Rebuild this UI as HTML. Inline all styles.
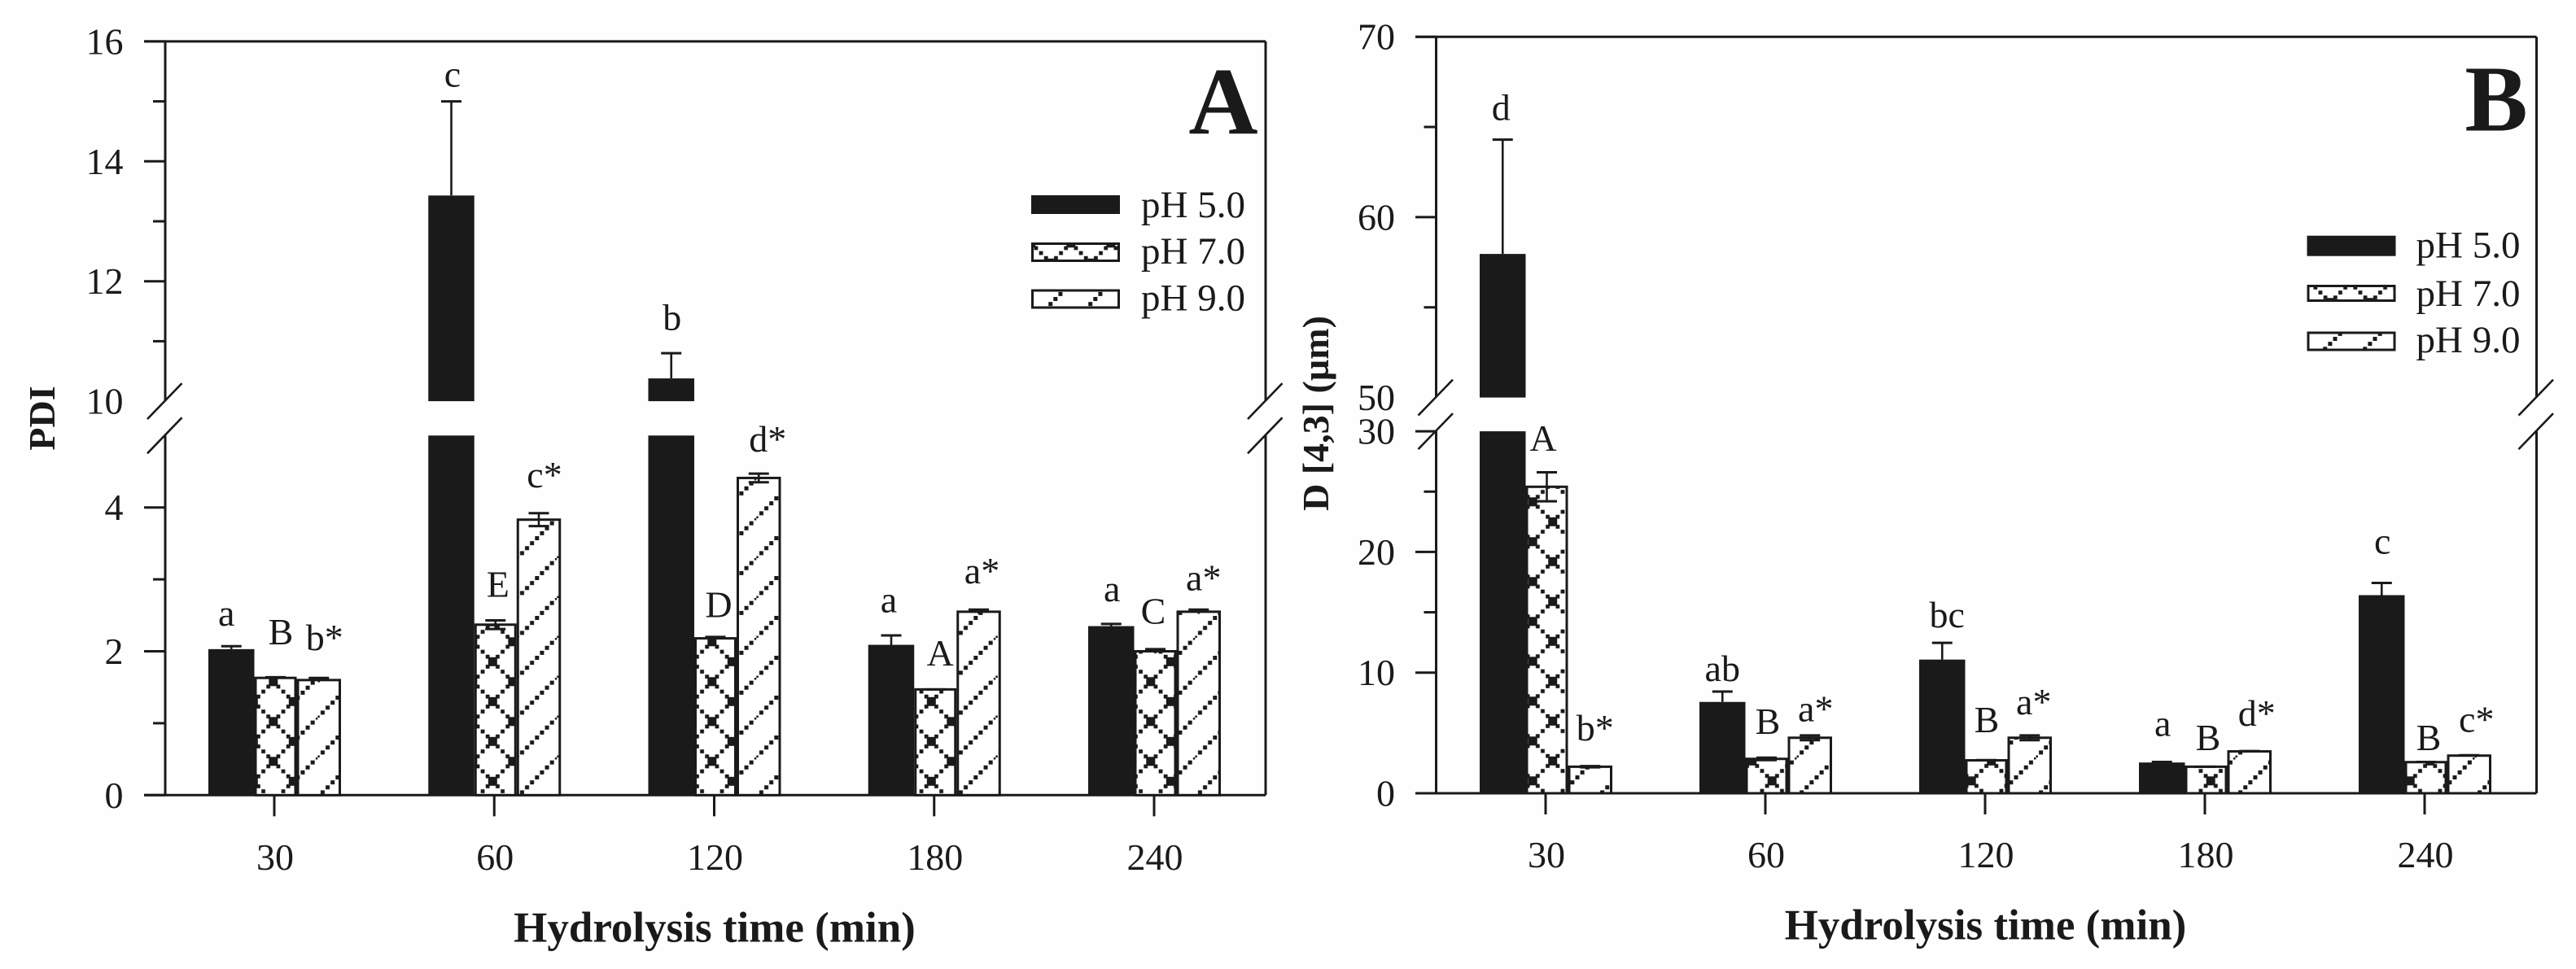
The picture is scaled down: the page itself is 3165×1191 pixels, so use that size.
<!DOCTYPE html>
<html lang="en">
<head>
<meta charset="utf-8">
<title>PDI and D[4,3] versus hydrolysis time</title>
<style>
html,body{margin:0;padding:0;background:#fefefe;}
body{width:3165px;height:1191px;overflow:hidden;}
svg{display:block;}
text{font-family:"Liberation Serif","DejaVu Serif",serif;fill:#1a1a1a;}
.b{font-weight:bold;}
</style>
</head>
<body>
<svg id="figure" xmlns="http://www.w3.org/2000/svg" width="3165" height="1191" viewBox="0 0 3165 1191">
  <defs>
    <pattern id="crossA" patternUnits="userSpaceOnUse" width="49" height="49" patternTransform="translate(17.3,29.3)"></pattern>
    <pattern id="crossB" patternUnits="userSpaceOnUse" width="49" height="49" patternTransform="translate(45.7,4.3)"></pattern>
    <pattern id="diagA" patternUnits="userSpaceOnUse" width="49" height="49" patternTransform="translate(-1.7,0)"></pattern>
    <pattern id="diagB" patternUnits="userSpaceOnUse" width="49" height="49" patternTransform="translate(2.5,0)"></pattern>
  </defs>
  <rect x="0" y="0" width="3165" height="1191" fill="#fefefe"/>

  <g id="panelA">
    <text class="b" x="1503" y="164" font-size="118" text-anchor="middle">A</text>
    <text class="b" x="878" y="1157.5" font-size="53" text-anchor="middle">Hydrolysis time (min)</text>
    <text class="b" font-size="46" text-anchor="middle" transform="translate(67,514) rotate(-90)">PDI</text>
    <g>
      <rect x="1267" y="240" width="109" height="23" fill="#1a1a1a"/>
      <rect x="1268.5" y="299.5" width="106" height="21" fill="url(#crossA)" stroke="#1a1a1a" stroke-width="3"/>
      <rect x="1268.5" y="357" width="106" height="21" fill="url(#diagA)" stroke="#1a1a1a" stroke-width="3"/>
      <text x="1402" y="267" font-size="47">pH 5.0</text>
      <text x="1402" y="324" font-size="47">pH 7.0</text>
      <text x="1402" y="381.7" font-size="47">pH 9.0</text>
    </g>
  </g>

  <g id="panelB">
    <text class="b" x="3067" y="160.7" font-size="116" text-anchor="middle">B</text>
    <text class="b" x="2439.5" y="1154.5" font-size="53" text-anchor="middle">Hydrolysis time (min)</text>
    <text class="b" font-size="46" text-anchor="middle" transform="translate(1632,508) rotate(-90)">D [4,3] (µm)</text>
    <g>
      <rect x="2834.5" y="289.7" width="109" height="25" fill="#1a1a1a"/>
      <rect x="2836" y="351.5" width="106" height="18" fill="url(#crossB)" stroke="#1a1a1a" stroke-width="3"/>
      <rect x="2836" y="409" width="106" height="21" fill="url(#diagB)" stroke="#1a1a1a" stroke-width="3"/>
      <text x="2968.5" y="316.5" font-size="47">pH 5.0</text>
      <text x="2968.5" y="375.8" font-size="47">pH 7.0</text>
      <text x="2968.5" y="433" font-size="47">pH 9.0</text>
    </g>
  </g>
</svg>

<script>
// ---- shared categories ----
const categories = ['30', '60', '120', '180', '240'];

// ---- panel A values (PDI) ----
const pdiPh5 = [2.03, 13.43, 10.38, 2.09, 2.35];
const pdiPh7 = [1.63, 2.37, 2.18, 1.47, 2.00];
const pdiPh9 = [1.60, 3.83, 4.41, 2.55, 2.55];
const pdiErrPh5 = [0.04, 1.57, 0.42, 0.13, 0.03];
const pdiErrPh7 = [0.01, 0.06, 0.02, 0.00, 0.03];
const pdiErrPh9 = [0.03, 0.09, 0.06, 0.03, 0.03];
const pdiLettersPh5 = ['a', 'c', 'b', 'a', 'a'];
const pdiLettersPh7 = ['B', 'E', 'D', 'A', 'C'];
const pdiLettersPh9 = ['b*', 'c*', 'd*', 'a*', 'a*'];
const pdiTickLabels = [0, 2, 4, 10, 12, 14, 16];
const pdiMajorTicks = [0, 2, 4, 12, 14, 16];
const pdiMinorTicks = [1, 3, 11, 13, 15];

// ---- panel B values (D[4,3]) ----
const dPh5 = [57.96, 7.57, 11.08, 2.55, 16.42];
const dPh7 = [25.4, 2.85, 2.73, 2.2, 2.58];
const dPh9 = [2.2, 4.6, 4.6, 3.47, 3.12];
const dErrPh5 = [6.34, 0.86, 1.39, 0.05, 1.01];
const dErrPh7 = [1.2, 0.1, 0.02, 0.00, 0.02];
const dErrPh9 = [0.05, 0.2, 0.2, 0.03, 0.03];
const dLettersPh5 = ['d', 'ab', 'bc', 'a', 'c'];
const dLettersPh7 = ['A', 'B', 'B', 'B', 'B'];
const dLettersPh9 = ['b*', 'a*', 'a*', 'd*', 'c*'];
const dTickLabels = [0, 10, 20, 30, 50, 60, 70];
const dMajorTicks = [0, 10, 20, 30, 60, 70];
const dMinorTicks = [15, 25, 55, 65];

const INK = '#1a1a1a';
const NS = 'http://www.w3.org/2000/svg';

function mk(parent, tag, attrs) {
  const el = document.createElementNS(NS, tag);
  for (const k in attrs) el.setAttribute(k, attrs[k]);
  parent.appendChild(el);
  return el;
}

// hatch tiles: chains of small squares along 45 degree lines, like the pixelated original
function fillCross(p) {
  mk(p, 'rect', {x: 0, y: 0, width: 49, height: 49, fill: '#fff'});
  const s = 49 / 8;
  for (let k = 0; k <= 8; k++) {
    const size = k % 4 === 0 ? 11 : 4.8;
    mk(p, 'rect', {x: k * s - size / 2, y: k * s - size / 2, width: size, height: size, fill: INK});
    mk(p, 'rect', {x: k * s - size / 2, y: 49 - k * s - size / 2, width: size, height: size, fill: INK});
  }
}
function fillDiag(p) {
  mk(p, 'rect', {x: 0, y: 0, width: 49, height: 49, fill: '#fff'});
  const s = 49 / 8;
  for (let k = 0; k <= 8; k++) {
    mk(p, 'rect', {x: k * s - 2.5, y: 49 - k * s - 2.5, width: 5, height: 5, fill: INK});
  }
}
fillCross(document.getElementById('crossA'));
fillCross(document.getElementById('crossB'));
fillDiag(document.getElementById('diagA'));
fillDiag(document.getElementById('diagB'));

function drawPanel(cfg) {
  const root = document.getElementById(cfg.rootId);

  function yScale(v) {
    if (v <= cfg.lowMax) return cfg.baseY - v * cfg.lowK;
    return cfg.topY + (cfg.upMax - v) * cfg.upK;
  }
  function xGroup(i) {
    return cfg.x0 + i * cfg.step;
  }
  const lowTopY = yScale(cfg.lowMax);
  const upBottomY = yScale(cfg.upMin);

  const layout = [
    {off: -81, w: 56.5},
    {off: -24.5, w: 52},
    {off: 27.5, w: 54.5}
  ];

  // axis frame
  const frame = [
    [cfg.axisTick, cfg.topY, cfg.right, cfg.topY],
    [cfg.axisTick, cfg.baseY, cfg.right, cfg.baseY],
    [cfg.left, cfg.topY, cfg.left, upBottomY],
    [cfg.left, lowTopY, cfg.left, cfg.baseY],
    [cfg.right, cfg.topY, cfg.right, upBottomY],
    [cfg.right, lowTopY, cfg.right, cfg.baseY]
  ];
  frame.forEach(function (f) {
    const el = mk(root, 'line', {x1: f[0], y1: f[1], x2: f[2], y2: f[3], stroke: INK, 'stroke-width': 3});
    
    
  });

  // axis break marks
  [cfg.left, cfg.right].forEach(function (ax) {
    [upBottomY, lowTopY].forEach(function (yy) {
      const el = mk(root, 'line', {x1: ax - 22, y1: yy + 22, x2: ax + 20.5, y2: yy - 22, stroke: INK, 'stroke-width': 2.6});
      
      
    });
  });

  // y ticks
  cfg.major.forEach(function (v) {
    const el = mk(root, 'line', {x1: cfg.axisTick, y1: yScale(v), x2: cfg.left, y2: yScale(v), stroke: INK, 'stroke-width': 3});
    
    
  });
  cfg.minor.forEach(function (v) {
    const el = mk(root, 'line', {x1: cfg.left - 15, y1: yScale(v), x2: cfg.left, y2: yScale(v), stroke: INK, 'stroke-width': 3});
    
    
  });
  cfg.tickLabels.forEach(function (v) {
    const el = mk(root, 'text', {x: cfg.labelRight, y: yScale(v) + 15.5, 'font-size': 46, 'text-anchor': 'end'});
    el.textContent = String(v);
    
    
  });

  // x ticks and labels
  categories.forEach(function (c, i) {
    const tx = xGroup(i) + cfg.tickShift;
    const t = mk(root, 'line', {x1: tx, y1: cfg.baseY, x2: tx, y2: cfg.baseY + 26, stroke: INK, 'stroke-width': 3});
    
    
    const l = mk(root, 'text', {x: tx + 1, y: cfg.xLabelY, 'font-size': 46, 'text-anchor': 'middle'});
    l.textContent = c;
    
    
  });

  // bars, error bars, significance letters
  cfg.series.forEach(function (s, si) {
    s.values.forEach(function (v, i) {
      const bx = xGroup(i) + layout[si].off;
      const bw = layout[si].w;
      const segs = v > cfg.lowMax
        ? [[lowTopY, cfg.baseY], [yScale(v), upBottomY]]
        : [[yScale(v), cfg.baseY]];
      segs.forEach(function (seg) {
        const attrs = {x: bx, y: seg[0], width: bw, height: seg[1] - seg[0], fill: s.fill};
        if (s.fill !== INK) {
          attrs.x = bx + 1.5;
          attrs.width = bw - 3;
          attrs.stroke = INK;
          attrs['stroke-width'] = 3;
        }
        const bar = mk(root, 'rect', attrs);
        
        
      });

      const cx = bx + bw / 2;
      const capY = yScale(v + s.errs[i]);
      const valY = yScale(v);
      const lowY = yScale(Math.max(v - s.errs[i], 0));
      const stem = mk(root, 'line', {x1: cx, y1: capY, x2: cx, y2: s.fill === INK ? valY : lowY, stroke: INK, 'stroke-width': 2.6});
      
      
      const cap = mk(root, 'line', {x1: cx - 12.5, y1: capY, x2: cx + 12.5, y2: capY, stroke: INK, 'stroke-width': 3});
      
      
      if (s.fill !== INK && s.errs[i] > 0.03) {
        const capLow = mk(root, 'line', {x1: cx - 12.5, y1: lowY, x2: cx + 12.5, y2: lowY, stroke: INK, 'stroke-width': 3});
        
        
      }

      const letter = mk(root, 'text', {x: cx + s.nudgeX[i], y: capY + s.nudgeY[i], 'font-size': 46, 'text-anchor': 'middle'});
      letter.textContent = s.letters[i];
      
      
    });
  });
}

drawPanel({
  rootId: 'panelA',
  left: 203, right: 1555, axisTick: 177, labelRight: 151.5,
  baseY: 977.3, lowK: 88.4, lowMax: 5,
  topY: 50.9, upK: 73.7, upMax: 16, upMin: 10,
  x0: 337, step: 270.25, tickShift: 0, xLabelY: 1069,
  major: pdiMajorTicks, minor: pdiMinorTicks, tickLabels: pdiTickLabels,
  series: [
    {values: pdiPh5, errs: pdiErrPh5, letters: pdiLettersPh5, fill: INK,
     nudgeX: [-6, 1.5, 1, -3, 1], nudgeY: [-25.5, -18.2, -28.4, -28.6, -27.9]},
    {values: pdiPh7, errs: pdiErrPh7, letters: pdiLettersPh7, fill: 'url(#crossA)',
     nudgeX: [6.5, 3, 4, 6, -2.5], nudgeY: [-40.5, -28.9, -24.1, -29.4, -31.2]},
    {values: pdiPh9, errs: pdiErrPh9, letters: pdiLettersPh9, fill: 'url(#diagA)',
     nudgeX: [7, 7, 11, 4, 6], nudgeY: [-34.4, -31.8, -27.2, -32.4, -23.6]}
  ]
});

drawPanel({
  rootId: 'panelB',
  left: 1764.5, right: 3116.5, axisTick: 1739, labelRight: 1714,
  baseY: 975, lowK: 14.83, lowMax: 30,
  topY: 45.2, upK: 22.17, upMax: 70, upMin: 50,
  x0: 1899, step: 270, tickShift: 0, xLabelY: 1066,
  major: dMajorTicks, minor: dMinorTicks, tickLabels: dTickLabels,
  series: [
    {values: dPh5, errs: dErrPh5, letters: dLettersPh5, fill: INK,
     nudgeX: [-2, 0, 6, 1, 1], nudgeY: [-24.3, -13, -19, -31.8, -35.8]},
    {values: dPh7, errs: dErrPh7, letters: dLettersPh7, fill: 'url(#crossB)',
     nudgeX: [-4.5, 1.5, 0.5, 2.5, 3.5], nudgeY: [-26.7, -29.3, -34.2, -20.4, -14.4]},
    {values: dPh9, errs: dErrPh9, letters: dLettersPh9, fill: 'url(#diagB)',
     nudgeX: [6, 7, 5, 9, 9], nudgeY: [-31.7, -17.3, -25.8, -31.1, -28.6]}
  ]
});
</script>
</body>
</html>
